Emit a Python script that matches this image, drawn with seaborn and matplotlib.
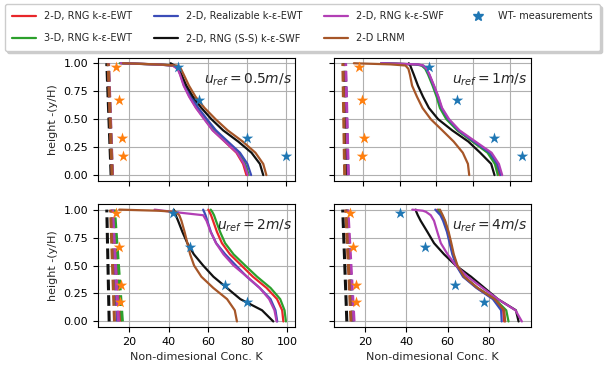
import numpy as np
import pandas as pd
import matplotlib
matplotlib.use("Agg")
import matplotlib.pyplot as plt
from matplotlib.lines import Line2D
import seaborn as sns

# ---------------- data ----------------
MODELS = ["2-D, RNG k-ε-EWT", "3-D, RNG k-ε-EWT", "2-D, Realizable k-ε-EWT",
          "2-D, RNG (S-S) k-ε-SWF", "2-D, RNG k-ε-SWF", "2-D LRNM"]
COLORS = ["#e8262a", "#2ca02c", "#3b4cb8", "#111111", "#b23fb5", "#a65628"]
WT_LABEL = "WT- measurements"

Y = [0.0, 0.1, 0.2, 0.3, 0.4, 0.5, 0.6, 0.7, 0.8, 0.9, 0.95, 0.98, 0.99, 1.0]
Y_DASH = [0.0, 1.0]
MEAS_Y = [0.97, 0.67, 0.33, 0.17]

U_LABELS = ["0.5", "1", "2", "4"]

# u_ref = 0.5 m/s
SOLID_05 = {
    "2-D, RNG k-ε-EWT":        [79.8, 78.1, 74.7, 68.7, 62.7, 58.5, 54.2, 50.8, 47.9, 46.0, 44.8, 42.2, 33.7, 16.6],
    "3-D, RNG k-ε-EWT":        [81.0, 79.2, 75.6, 69.6, 63.5, 59.0, 54.7, 51.2, 48.2, 46.2, 45.0, 42.5, 33.0, 15.0],
    "2-D, Realizable k-ε-EWT": [82.2, 80.3, 76.5, 70.3, 64.2, 59.6, 55.2, 51.6, 48.6, 46.5, 45.2, 42.8, 34.0, 16.0],
    "2-D, RNG (S-S) k-ε-SWF":  [88.4, 86.7, 82.4, 75.6, 67.9, 61.9, 56.8, 52.5, 49.1, 46.5, 44.8, 43.0, 42.0, 41.0],
    "2-D, RNG k-ε-SWF":        [80.5, 78.6, 75.0, 68.8, 62.5, 58.2, 54.0, 50.5, 47.7, 45.8, 44.6, 42.0, 33.0, 15.5],
    "2-D LRNM":                [90.0, 88.4, 84.4, 77.9, 70.2, 64.0, 58.4, 53.8, 50.4, 47.7, 46.3, 44.0, 34.0, 16.6],
}
DASH_05 = {
    "2-D, RNG k-ε-EWT": [11.0, 9.0], "3-D, RNG k-ε-EWT": [11.2, 9.2],
    "2-D, Realizable k-ε-EWT": [11.0, 9.0], "2-D, RNG (S-S) k-ε-SWF": [10.6, 8.4],
    "2-D, RNG k-ε-SWF": [11.3, 9.3], "2-D LRNM": [11.1, 9.1],
}
WT_05 = [44.8, 55.5, 80.2, 100.0]
OR_05 = [13.3, 14.5, 16.0, 16.6]

# u_ref = 1 m/s
SOLID_1 = {
    "2-D, RNG k-ε-EWT":        [94.5, 92.7, 88.5, 80.0, 71.8, 66.3, 62.7, 60.8, 58.5, 56.0, 54.5, 52.5, 49.0, 30.0],
    "3-D, RNG k-ε-EWT":        [93.6, 92.0, 88.0, 79.8, 71.5, 65.5, 62.0, 60.2, 58.0, 55.5, 54.0, 52.0, 48.5, 30.0],
    "2-D, Realizable k-ε-EWT": [95.2, 93.3, 89.2, 80.6, 72.2, 66.6, 62.9, 61.0, 58.6, 56.1, 54.6, 52.7, 49.5, 30.0],
    "2-D, RNG (S-S) k-ε-SWF":  [91.8, 90.0, 84.0, 77.5, 68.7, 61.0, 56.0, 52.8, 50.0, 47.7, 46.5, 45.8, 45.4, 45.0],
    "2-D, RNG k-ε-SWF":        [96.0, 94.2, 90.2, 81.4, 72.7, 67.0, 63.2, 61.2, 58.8, 56.3, 54.8, 53.0, 50.0, 30.0],
    "2-D LRNM":                [78.0, 77.3, 74.5, 69.5, 63.3, 57.0, 52.5, 49.5, 46.8, 45.6, 44.8, 43.2, 35.0, 15.0],
}
DASH_1 = {
    "2-D, RNG k-ε-EWT": [11.5, 10.0], "3-D, RNG k-ε-EWT": [11.5, 10.2],
    "2-D, Realizable k-ε-EWT": [11.8, 10.3], "2-D, RNG (S-S) k-ε-SWF": [10.5, 9.5],
    "2-D, RNG k-ε-SWF": [12.0, 10.5], "2-D LRNM": [10.0, 9.0],
}
WT_1 = [56.1, 71.3, 91.8, 106.8]
OR_1 = [17.6, 19.5, 20.4, 19.5]

# u_ref = 2 m/s
SOLID_2 = {
    "2-D, RNG k-ε-EWT":        [98.0, 97.4, 94.8, 89.5, 82.6, 76.8, 71.0, 66.9, 64.4, 62.4, 61.4, 60.6, 60.3, 60.0],
    "3-D, RNG k-ε-EWT":        [99.3, 98.6, 96.4, 91.5, 84.7, 78.7, 72.8, 68.5, 66.0, 63.9, 62.9, 62.0, 61.6, 61.2],
    "2-D, Realizable k-ε-EWT": [94.9, 94.0, 91.5, 86.0, 79.5, 74.0, 68.6, 64.0, 61.3, 59.5, 58.6, 57.9, 57.6, 57.4],
    "2-D, RNG (S-S) k-ε-SWF":  [92.9, 87.2, 76.2, 69.4, 62.6, 57.4, 52.7, 49.4, 46.9, 44.7, 43.5, 43.0, 42.8, 42.5],
    "2-D, RNG k-ε-SWF":        [94.6, 93.5, 90.8, 86.0, 79.6, 72.8, 67.7, 63.9, 61.2, 59.1, 57.4, 42.0, 37.4, 32.8],
    "2-D LRNM":                [74.5, 73.4, 69.5, 62.5, 56.5, 52.8, 50.8, 49.4, 48.0, 46.4, 45.3, 43.5, 35.0, 14.9],
}
DASH_2 = {
    "2-D, RNG k-ε-EWT": [15.5, 12.0], "3-D, RNG k-ε-EWT": [16.5, 12.5],
    "2-D, Realizable k-ε-EWT": [14.0, 11.0], "2-D, RNG (S-S) k-ε-SWF": [9.8, 8.6],
    "2-D, RNG k-ε-SWF": [14.5, 11.5], "2-D LRNM": [12.5, 10.5],
}
WT_2 = [42.1, 50.6, 68.5, 79.6]
OR_2 = [13.5, 14.9, 15.7, 15.2]

# u_ref = 4 m/s
SOLID_4 = {
    "2-D, RNG k-ε-EWT":        [87.5, 87.0, 82.5, 74.3, 67.8, 64.5, 62.6, 61.3, 60.0, 58.3, 57.0, 56.0, 55.5, 55.0],
    "3-D, RNG k-ε-EWT":        [89.6, 88.5, 83.0, 74.5, 68.0, 64.5, 62.7, 61.4, 60.2, 58.6, 57.3, 56.3, 56.0, 55.7],
    "2-D, Realizable k-ε-EWT": [86.3, 86.0, 82.0, 74.0, 67.5, 64.2, 62.3, 61.0, 59.7, 57.8, 56.5, 55.0, 54.5, 54.0],
    "2-D, RNG (S-S) k-ε-SWF":  [94.5, 93.2, 84.4, 77.9, 71.4, 64.0, 58.3, 53.4, 50.2, 46.9, 45.5, 44.8, 44.6, 44.5],
    "2-D, RNG k-ε-SWF":        [96.1, 93.0, 84.4, 77.0, 69.7, 64.0, 60.0, 56.7, 55.0, 53.4, 51.8, 49.5, 48.0, 42.8],
    "2-D LRNM":                [88.0, 87.5, 82.8, 74.5, 68.0, 64.8, 63.0, 61.8, 60.5, 58.8, 57.6, 56.8, 56.5, 56.3],
}
DASH_4 = {
    "2-D, RNG k-ε-EWT": [13.5, 10.5], "3-D, RNG k-ε-EWT": [14.0, 11.2],
    "2-D, Realizable k-ε-EWT": [14.0, 11.0], "2-D, RNG (S-S) k-ε-SWF": [11.0, 9.0],
    "2-D, RNG k-ε-SWF": [14.5, 11.5], "2-D LRNM": [13.0, 10.5],
}
WT_4 = [36.8, 49.0, 63.5, 77.6]
OR_4 = [12.3, 14.0, 15.6, 15.6]

PANELS = [
    (SOLID_05, DASH_05, WT_05, OR_05),
    (SOLID_1, DASH_1, WT_1, OR_1),
    (SOLID_2, DASH_2, WT_2, OR_2),
    (SOLID_4, DASH_4, WT_4, OR_4),
]

# ---------------- style ----------------
sns.set_theme(style="ticks", rc={
    "axes.grid": True, "grid.color": "#b0b0b0", "grid.linewidth": 0.8,
    "axes.edgecolor": "black", "axes.linewidth": 0.8,
    "xtick.color": "black", "ytick.color": "black",
    "xtick.major.size": 3.5, "ytick.major.size": 3.5,
})
plt.rcParams["font.family"] = ["DejaVu Sans"]
plt.rcParams["mathtext.fontset"] = "dejavusans"

palette = dict(zip(MODELS, COLORS))

fig, axes = plt.subplots(2, 2, figsize=(6.04, 3.65), dpi=100)
fig.subplots_adjust(left=0.162, right=0.879, top=0.842, bottom=0.104,
                    wspace=0.198, hspace=0.19)


def long_df(d, ys):
    rows = []
    for m in MODELS:
        for k, yv in zip(d[m], ys):
            rows.append((m, k, yv))
    return pd.DataFrame(rows, columns=["model", "K", "y"])


for i, (ax, (solid, dash, wt, orng)) in enumerate(zip(axes.flat, PANELS)):
    dd = long_df(dash, Y_DASH)
    sns.lineplot(data=dd, x="K", y="y", hue="model", hue_order=MODELS,
                 palette=palette, sort=False, estimator=None, legend=False,
                 ax=ax, linewidth=2.2, linestyle=(0, (3.5, 1.6)))
    sd = long_df(solid, Y)
    sns.lineplot(data=sd, x="K", y="y", hue="model", hue_order=MODELS,
                 palette=palette, sort=False, estimator=None, legend=False,
                 ax=ax, linewidth=1.6)
    sns.scatterplot(x=orng, y=MEAS_Y, marker="*", s=75, color="#ff7f0e",
                    linewidth=0, ax=ax, zorder=5)
    sns.scatterplot(x=wt, y=MEAS_Y, marker="*", s=75, color="#1f77b4",
                    linewidth=0, ax=ax, zorder=5)
    ax.text(0.985, 0.82, r"$u_{ref} = %s m/s$" % U_LABELS[i],
            transform=ax.transAxes, ha="right", va="center", fontsize=10)
    ax.set_yticks([0, 0.25, 0.5, 0.75, 1.0])
    ax.set_xticks([20, 40, 60, 80, 100])
    ax.tick_params(labelsize=8, width=0.8)
    ax.set_xlabel("")
    ax.set_ylabel("")
    if i % 2 == 0:
        ax.set_ylabel("height -(y/H)", fontsize=8)
    else:
        ax.set_yticklabels([])
    if i < 2:
        ax.set_xticklabels([])
    else:
        ax.set_xlabel("Non-dimesional Conc. K", fontsize=8)

axes[1, 1].set_xlim(4.7, 100.5)
axes[1, 1].set_xticks([20, 40, 60, 80])

handles = [Line2D([], [], color=c, lw=1.6) for c in COLORS]
handles.append(Line2D([], [], color="#1f77b4", marker="*", linestyle="none", markersize=7))
labels = MODELS + [WT_LABEL]
fig.legend(handles, labels, ncol=4, loc="upper left",
           bbox_to_anchor=(0.008, 0.868, 0.985, 0.121), mode="expand",
           fontsize=7, frameon=True, shadow={"color": "0.8", "alpha": 1.0},
           labelspacing=1.25, borderpad=0.75,
           handlelength=2.5, borderaxespad=0.0, fancybox=True,
           edgecolor="#cccccc")

fig.savefig("out.png", dpi=100)
